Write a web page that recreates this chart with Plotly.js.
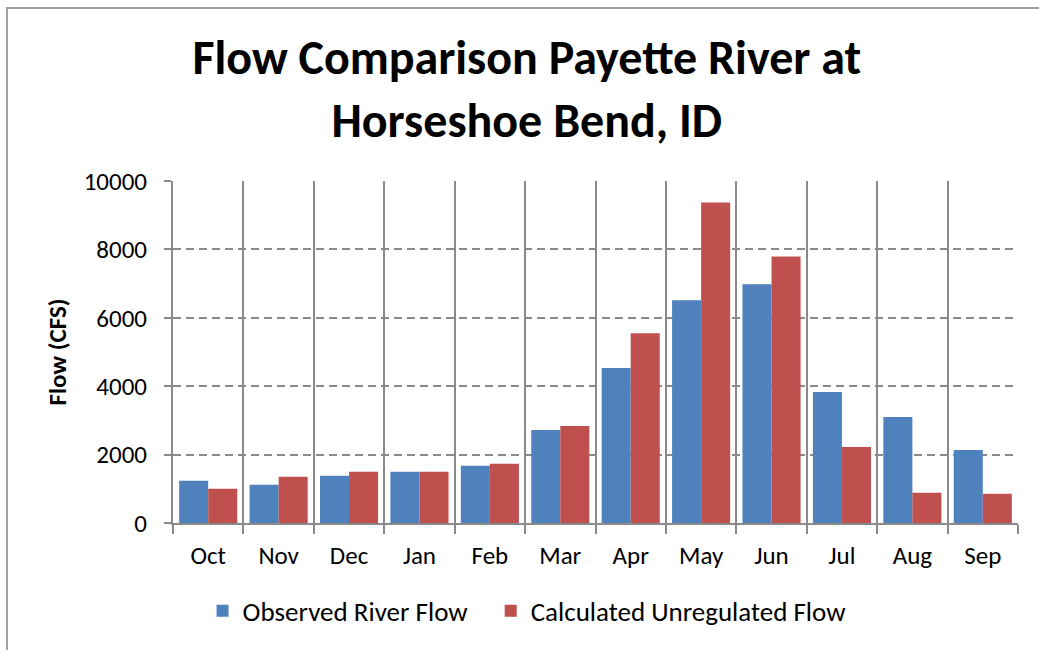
<!DOCTYPE html>
<html>
<head>
<meta charset="utf-8">
<script src="https://cdn.plot.ly/plotly-3.0.1.min.js"></script>
<style>
  html, body { margin: 0; padding: 0; background: #fff; overflow: hidden; }
  #chart { width: 1039px; height: 650px; }
  #frame { position: absolute; left: 6px; top: 7px; width: 1100px; height: 700px;
           border-left: 2px solid #a0a0a0; border-top: 2px solid #a0a0a0; pointer-events: none; }
</style>
</head>
<body>
<div id="chart"></div>
<div id="frame"></div>
<script>
const months = ["Oct","Nov","Dec","Jan","Feb","Mar","Apr","May","Jun","Jul","Aug","Sep"];
const observedFlow = [1234, 1118, 1380, 1497, 1672, 2721, 4529, 6511, 6978, 3829, 3100, 2138];
const unregulatedFlow = [1001, 1351, 1497, 1497, 1730, 2838, 5549, 9368, 7794, 2225, 884, 855];
const yTicks = [0, 2000, 4000, 6000, 8000, 10000];

const FONT = "Carlito, Lato, 'Open Sans', sans-serif";
const GRID = "#8a8a8a";
const LEGEND_FONT = { family: FONT, size: 27, color: "#000" };

const traces = [
  { type: "bar", name: "Observed River Flow", x: months, y: observedFlow,
    marker: { color: "#4F81BD" }, legend: "legend" },
  { type: "bar", name: "Calculated Unregulated Flow", x: months, y: unregulatedFlow,
    marker: { color: "#C0504D" }, legend: "legend2" }
];

const layout = {
  width: 1039, height: 650,
  paper_bgcolor: "#fff", plot_bgcolor: "#fff",
  margin: { l: 173, r: 21, t: 181, b: 127 },
  font: { family: FONT, color: "#000" },
  title: {
    text: "<b>Flow Comparison Payette River at<br>Horseshoe Bend, ID</b>",
    font: { family: FONT, size: 48, color: "#000" },
    x: 0.507, xanchor: "center", y: 0.886, yanchor: "middle"
  },
  barmode: "group", bargap: 0.175, bargroupgap: 0,
  xaxis: {
    type: "category", tickson: "boundaries",
    showgrid: true, gridcolor: GRID, gridwidth: 2,
    showline: true, linecolor: GRID, linewidth: 2,
    ticks: "outside", ticklen: 9, tickcolor: GRID, tickwidth: 2,
    ticklabelstandoff: 9,
    tickfont: { family: FONT, size: 25, color: "#000" },
    zeroline: false, fixedrange: true
  },
  yaxis: {
    range: [0, 10000], tickvals: yTicks, ticktext: yTicks.map(String),
    showgrid: true, gridcolor: GRID, gridwidth: 2, griddash: "8px,5px",
    showline: true, linecolor: GRID, linewidth: 2,
    ticks: "outside", ticklen: 7, tickcolor: GRID, tickwidth: 2,
    ticklabelstandoff: 12,
    tickfont: { family: FONT, size: 25, color: "#000" },
    zeroline: false, fixedrange: true,
    title: { text: "<b>Flow (CFS)</b>", font: { family: FONT, size: 25, color: "#000" }, standoff: 10 }
  },
  showlegend: true,
  legend: {
    orientation: "h", x: 0.035, xanchor: "left", y: -0.258, yanchor: "middle",
    font: LEGEND_FONT, itemclick: false, itemdoubleclick: false
  },
  legend2: {
    orientation: "h", x: 0.376, xanchor: "left", y: -0.258, yanchor: "middle",
    font: LEGEND_FONT, itemclick: false, itemdoubleclick: false
  }
};

Plotly.newPlot("chart", traces, layout, { displayModeBar: false, staticPlot: true });
</script>
</body>
</html>
